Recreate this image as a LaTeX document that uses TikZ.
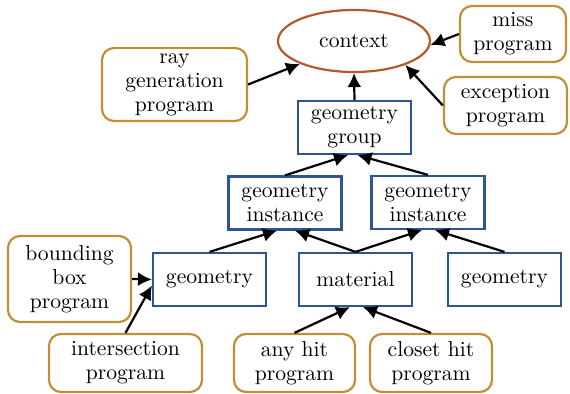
\documentclass[tikz,border=0pt]{standalone}
\usepackage{tikz}
\usetikzlibrary{arrows.meta,calc,shapes.geometric}
\definecolor{ctxOrange}{HTML}{B25A2C}
\definecolor{progGold}{HTML}{BF9035}
\definecolor{objBlue}{HTML}{2D5592}

\begin{document}
\begin{tikzpicture}[x=0.5pt,y=-0.5pt,>={Latex[length=7pt,width=7pt]},
    font=\fontsize{10.8}{12}\selectfont,
    ctx/.style={ellipse,draw=ctxOrange,line width=1.1pt,minimum width=76pt,minimum height=31pt,inner sep=0pt},
    prog/.style={draw=progGold,line width=1.1pt,rounded corners=6pt,align=center,inner sep=0pt},
    obj/.style={draw=objBlue,line width=1.1pt,align=center,inner sep=0pt,minimum width=56.5pt,minimum height=26.5pt},
    link/.style={->,line width=1.1pt}]
    \useasboundingbox (0,0) rectangle (570,394);
    % top: context and its programs
    \node[ctx] (context) at (354,41) {context};
    \node[prog,minimum width=53pt,minimum height=28pt] (miss) at (513,34) {miss\\program};
    \node[prog,minimum width=61.5pt,minimum height=28.5pt] (exception) at (505.5,105.5) {exception\\program};
    \node[prog,minimum width=72.5pt,minimum height=36.5pt] (raygen) at (174.5,84.5) {ray\\generation\\program};
    % object hierarchy
    \node[obj] (group) at (354.5,127.5) {geometry\\group};
    \node[obj] (inst1) at (285,203) {geometry\\instance};
    \node[obj] (inst2) at (428,202.5) {geometry\\instance};
    \node[obj] (geo1) at (209.5,279.5) {geometry};
    \node[obj] (material) at (355.5,279.5) {material};
    \node[obj] (geo2) at (504.5,279.5) {geometry};
    % bottom programs
    \node[prog,minimum width=61.5pt,minimum height=43pt] (bbox) at (69.5,279) {bounding\\box\\program};
    \node[prog,minimum width=76.5pt,minimum height=29pt] (inter) at (125.5,363) {intersection\\program};
    \node[prog,minimum width=60.5pt,minimum height=29pt] (anyhit) at (294.5,363) {any hit\\program};
    \node[prog,minimum width=61pt,minimum height=29pt] (closet) at (431,363) {closet hit\\program};

    \draw[link] (group.north) -- (context.south);
    \draw[link] (raygen.east) -- (context.203);
    \draw[link] (miss.west) -- (context.-3);
    \draw[link] (exception.west) -- (context.-25);
    \draw[link] (inst1.north) -- ($(group.south)+(-6.5,0)$);
    \draw[link] (inst2.north) -- ($(group.south)+(3,0)$);
    \draw[link] (geo1.north) -- ($(inst1.south)+(-8,0)$);
    \draw[link] (material.north) -- ($(inst1.south)+(10,0)$);
    \draw[link] (material.north) -- ($(inst2.south)+(-6,0)$);
    \draw[link] (geo2.north) -- ($(inst2.south)+(7,0)$);
    \draw[link] (bbox.east) -- (geo1.west);
    \draw[link] (inter.north) -- ($(geo1.west)+(0,6)$);
    \draw[link] (anyhit.north) -- ($(material.south)+(-5.5,0)$);
    \draw[link] (closet.north) -- ($(material.south)+(7.5,0)$);
  \end{tikzpicture}
\end{document}
